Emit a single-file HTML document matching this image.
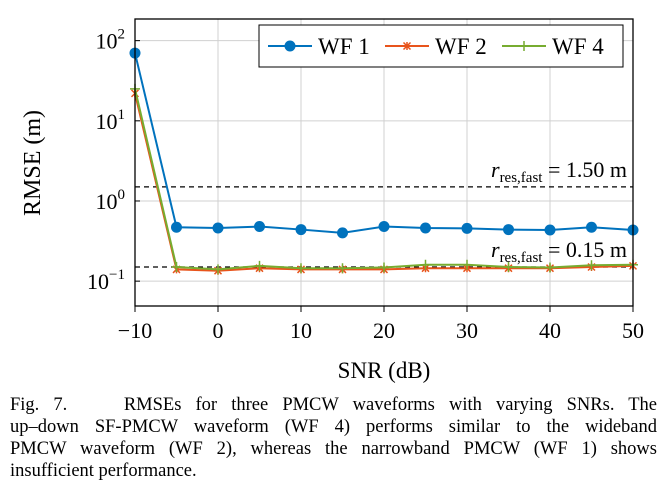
<!DOCTYPE html>
<html><head><meta charset="utf-8">
<style>
body{margin:0;background:#fff;width:669px;height:490px;overflow:hidden;font-family:"Liberation Serif",serif;}
svg{position:absolute;left:0;top:0;}
.cap{position:absolute;left:10px;top:394px;width:647px;font-size:18.5px;line-height:22px;color:#000;}
.cap div{text-align:justify;text-align-last:justify;white-space:nowrap;}
.cap div.last{text-align-last:left;}
</style></head><body>
<svg id="chart" width="669" height="390"></svg>
<div class="cap">
<div style="white-space:normal">Fig. 7.&nbsp;&nbsp;&nbsp; RMSEs for three PMCW waveforms with varying SNRs. The</div>
<div style="white-space:normal">up–down SF-PMCW waveform (WF 4) performs similar to the wideband</div>
<div style="white-space:normal">PMCW waveform (WF 2), whereas the narrowband PMCW (WF 1) shows</div>
<div class="last">insufficient performance.</div>
</div>
<script>
const snr=[-10,-5,0,5,10,15,20,25,30,35,40,45,50];
const wf1=[70,0.47,0.46,0.48,0.44,0.40,0.48,0.46,0.455,0.44,0.435,0.47,0.435];
const wf2=[22,0.14,0.135,0.145,0.14,0.14,0.14,0.145,0.145,0.145,0.145,0.15,0.155];
const wf4=[25,0.15,0.14,0.155,0.145,0.145,0.148,0.16,0.16,0.15,0.148,0.158,0.16];
const xTicks=[-10,0,10,20,30,40,50];
const yTickExp=[-1,0,1,2];
const thresholds=[1.5,0.15];
const thresholdLabels=["1.50","0.15"];
const NS="http://www.w3.org/2000/svg";
const svg=document.getElementById('chart');
const L=135,R=633,T=19,B=306,ymin=-1.31,ymax=2.27;
const X=v=>L+(v+10)/60*(R-L);
const Y=v=>B-(Math.log10(v)-ymin)/(ymax-ymin)*(B-T);
function el(t,a,p){const e=document.createElementNS(NS,t);for(const k in a)e.setAttribute(k,a[k]);(p||svg).appendChild(e);return e;}
for(const t of xTicks){const g=el('line',{x1:X(t),x2:X(t),y1:T,y2:B,stroke:'#d0d0d0','stroke-width':1});


const tx=el('text',{x:X(t),y:B+32,'text-anchor':'middle','font-size':22,'font-family':'Liberation Serif'});tx.textContent=(t<0?'\u2212':'')+Math.abs(t);

}
for(const e of yTickExp){const y=Y(Math.pow(10,e));const g=el('line',{x1:L,x2:R,y1:y,y2:y,stroke:'#d0d0d0','stroke-width':1});


el('line',{x1:L,x2:L+5,y1:y,y2:y,stroke:'#000'});
const tx=el('text',{x:L-10,y:y+8,'text-anchor':'end','font-size':22,'font-family':'Liberation Serif'});
tx.innerHTML='10<tspan dy="-10" font-size="15">'+(e<0?'\u2212':'')+Math.abs(e)+'</tspan>';

}
thresholds.forEach((v,i)=>{const l=el('line',{x1:L,x2:R,y1:Y(v),y2:Y(v),stroke:'#000','stroke-width':1.3,'stroke-dasharray':'5,4'});


const tx=el('text',{x:R-6,y:Y(v)-10,'text-anchor':'end','font-size':22,'font-family':'Liberation Serif'});
tx.innerHTML='<tspan font-style="italic">r</tspan><tspan dy="5" font-size="15">res,fast</tspan><tspan dy="-5"> = '+thresholdLabels[i]+' m</tspan>';

});
function series(vals,color,marker,name){
const pts=snr.map((s,i)=>X(s)+','+Y(vals[i])).join(' ');
const p=el('polyline',{points:pts,fill:'none',stroke:color,'stroke-width':2});


snr.forEach((s,i)=>{const m=drawMarker(X(s),Y(vals[i]),color,marker);

});}
function drawMarker(x,y,c,m){const g=el('g',{});
if(m==='o')el('circle',{cx:x,cy:y,r:5.5,fill:c},g);
else if(m==='x'){el('path',{d:`M${x-3.5} ${y-3.5}L${x+3.5} ${y+3.5}M${x-3.5} ${y+3.5}L${x+3.5} ${y-3.5}M${x} ${y-4}L${x} ${y+4}`,stroke:c,'stroke-width':1.5},g);}
else el('path',{d:`M${x-5} ${y}H${x+5}M${x} ${y-5}V${y+5}`,stroke:c,'stroke-width':1.5},g);
return g;}
series(wf1,'#0072bd','o','wf1');
series(wf2,'#e8541c','x','wf2');
series(wf4,'#77ac30','+','wf4');
const box=el('rect',{x:L,y:T,width:R-L,height:B-T,fill:'none',stroke:'#000','stroke-width':1.3});


for(const t of xTicks){el('line',{x1:X(t),x2:X(t),y1:B,y2:B+6,stroke:'#000'});}
const lg=el('g',{});


el('rect',{x:259,y:25,width:364,height:42,fill:'#fff',stroke:'#000','stroke-width':1},lg);
[['WF 1','#0072bd','o',268],['WF 2','#e8541c','x',385],['WF 4','#77ac30','+',502]].forEach(([n,c,m,x0])=>{
const g=el('g',{},lg);


el('line',{x1:x0,x2:x0+44,y1:46,y2:46,stroke:c,'stroke-width':2},g);
g.appendChild(drawMarker(x0+22,46,c,m));
const t=el('text',{x:x0+50,y:54,'font-size':23,'font-family':'Liberation Serif'},g);t.textContent=n;});
const xt=el('text',{x:384,y:378,'text-anchor':'middle','font-size':23,'font-family':'Liberation Serif'});xt.textContent='SNR (dB)';


const yt=el('text',{x:0,y:0,'text-anchor':'middle','font-size':24,'font-family':'Liberation Serif',transform:'translate(40,163) rotate(-90)'});yt.textContent='RMSE (m)';


</script>
</body></html>
